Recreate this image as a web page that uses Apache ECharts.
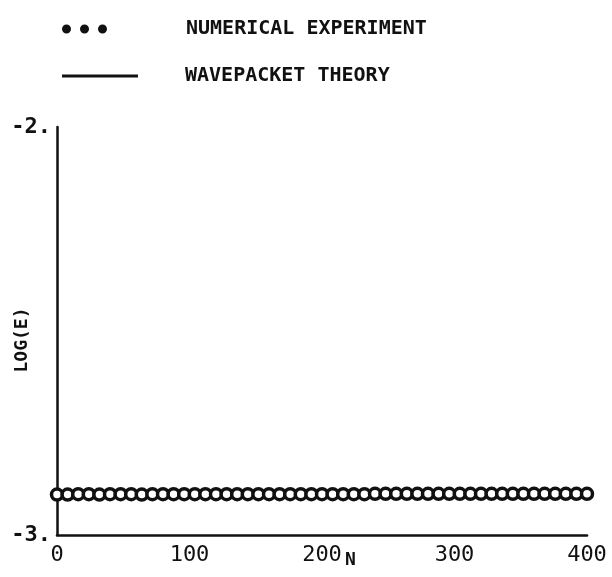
<!DOCTYPE html>
<html>
<head>
<meta charset="utf-8">
<script src="https://cdn.jsdelivr.net/npm/echarts@6/dist/echarts.min.js"></script>
<style>html,body{margin:0;padding:0;background:#fff}#c{width:612px;height:577px}</style>
</head>
<body>
<div id="c"></div>
<script>
const expN = [0,8,16,24,32,40,48,56,64,72,80,88,96,104,112,120,128,136,144,152,160,168,176,184,192,200,208,216,224,232,240,248,256,264,272,280,288,296,304,312,320,328,336,344,352,360,368,376,384,392,400];
const expLogE = [-2.901,-2.901,-2.900,-2.900,-2.901,-2.900,-2.900,-2.900,-2.901,-2.900,-2.900,-2.900,-2.900,-2.900,-2.900,-2.900,-2.900,-2.900,-2.900,-2.900,-2.900,-2.900,-2.900,-2.900,-2.900,-2.900,-2.900,-2.900,-2.900,-2.900,-2.899,-2.899,-2.899,-2.899,-2.899,-2.899,-2.899,-2.899,-2.899,-2.899,-2.899,-2.899,-2.899,-2.899,-2.899,-2.899,-2.899,-2.899,-2.899,-2.899,-2.899];
const theoryN = [0,400];
const theoryLogE = [-2.900,-2.899];
const xTicks = [0,100,200,300,400];
const yTicks = [-3,-2];
const seriesNames = ['NUMERICAL EXPERIMENT','WAVEPACKET THEORY'];
const xName = 'N';
const yName = 'LOG(E)';

const FONT = '"DejaVu Sans Mono", "Liberation Mono", monospace';
const INK = '#111';
const chart = echarts.init(document.getElementById('c'));
chart.setOption({
  animation: false,
  backgroundColor: '#fff',
  grid: {left: 57, right: 25, top: 127, bottom: 42, containLabel: false, outerBoundsMode: 'none'},
  legend: [
    {
      data: [{name: seriesNames[0], itemStyle: {color: INK, borderColor: INK, borderWidth: 0}}],
      left: 57, top: 14, orient: 'vertical',
      itemWidth: 48, itemHeight: 9,
      icon: 'path://M4.5,0a4.5,4.5 0 1,0 0.01,0z M22.5,0a4.5,4.5 0 1,0 0.01,0z M40.5,0a4.5,4.5 0 1,0 0.01,0z M0,0 L0,0 M48,9 L48,9',
      textStyle: {fontFamily: FONT, fontSize: 20, fontWeight: 'bold', color: INK, padding: [0,0,0,71]},
      selectedMode: false
    },
    {
      data: [{name: seriesNames[1], itemStyle: {color: INK}}],
      left: 57, top: 61, orient: 'vertical',
      itemWidth: 76, itemHeight: 3,
      icon: 'rect',
      textStyle: {fontFamily: FONT, fontSize: 20, fontWeight: 'bold', color: INK, padding: [0,0,0,42]},
      selectedMode: false
    }
  ],
  xAxis: {
    type: 'value', min: 0, max: 400, interval: 100,
    axisLine: {show: true, onZero: false, lineStyle: {color: INK, width: 2.5}},
    axisTick: {show: false},
    splitLine: {show: false},
    axisLabel: {fontFamily: FONT, fontSize: 22, color: INK, margin: 9,
      formatter: v => xTicks.includes(v) ? String(v) : ''}
  },
  yAxis: {
    type: 'value', min: -3, max: -2, interval: 1,
    axisLine: {show: true, onZero: false, lineStyle: {color: INK, width: 2.5}},
    axisTick: {show: false},
    splitLine: {show: false},
    axisLabel: {fontFamily: FONT, fontSize: 22, fontWeight: 'bold', color: INK, margin: 6,
      formatter: v => yTicks.includes(v) ? String(v) + '.' : ''}
  },
  graphic: [
    {type: 'text', left: 345, top: 551, style: {text: xName, font: 'bold 18px ' + FONT, fill: INK}},
    {type: 'text', x: 22, y: 340, rotation: Math.PI / 2,
      style: {text: yName, font: 'bold 18px ' + FONT, fill: INK, align: 'center', verticalAlign: 'middle'}}
  ],
  series: [
    {
      name: seriesNames[0], type: 'scatter', clip: false,
      symbol: 'circle', symbolSize: 11,
      itemStyle: {color: '#fff', borderColor: INK, borderWidth: 3.5, opacity: 1},
      data: expN.map((n, i) => [n, expLogE[i]]),
      z: 3
    },
    {
      name: seriesNames[1], type: 'line', showSymbol: false, symbol: 'none',
      lineStyle: {color: INK, width: 2},
      itemStyle: {color: INK},
      data: theoryN.map((n, i) => [n, theoryLogE[i]]),
      z: 2
    }
  ]
});
</script>
</body>
</html>
